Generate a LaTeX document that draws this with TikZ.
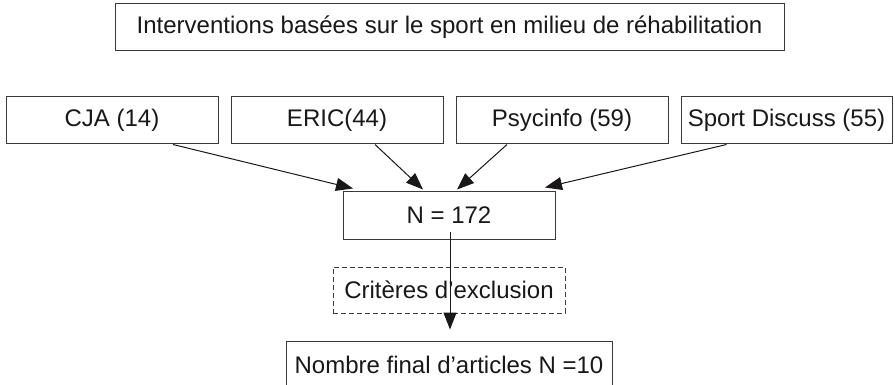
\documentclass[tikz,border=0pt]{standalone}
\usepackage{fontspec}
\setmainfont{Liberation Sans}
\usetikzlibrary{arrows.meta,calc}
\definecolor{boxline}{HTML}{3A3A3A}
\definecolor{txt}{HTML}{1A1718}
\tikzset{
  box/.style={draw=boxline, line width=1pt, rectangle, inner sep=0pt, minimum height=47pt, text=txt, font=\fontsize{24}{28}\selectfont},
  dbox/.style={box, dashed, dash pattern=on 5pt off 3pt},
  conn/.style={draw=txt, line width=1pt, -{Triangle[length=17pt,width=13pt]}}
}
\begin{document}
\begin{tikzpicture}[x=1pt,y=-1pt]
\useasboundingbox (0,0) rectangle (895,385);
\node[box, minimum width=669pt] (title) at (449.5,27.5) {Interventions basées sur le sport en milieu de réhabilitation};
\node[box, minimum width=212pt] (cja) at (112,120.5) {CJA (14)};
\node[box, minimum width=212pt] (eric) at (337,120.5) {ERIC(44)};
\node[box, minimum width=212pt] (psy) at (562,120.5) {Psycinfo (59)};
\node[box, minimum width=211pt] (sport) at (786.5,120.5) {Sport Discuss (55)};
\node[box, minimum width=212pt] (n) at (449,215.5) {N = 172};
\node[dbox, minimum width=232pt, minimum height=46pt] (crit) at (449,290) {Critères d’exclusion};
\node[box, minimum width=326pt] (final) at (449,364.5) {Nombre final d’articles N =10};
\draw[conn] ($(cja.south)+(61,0)$) -- ($(n.north)+(-96,-3)$);
\draw[conn] ($(eric.south)+(38,0)$) -- ($(n.north)+(-26,-2)$);
\draw[conn] ($(psy.south)+(-55,0)$) -- ($(n.north)+(8,-2)$);
\draw[conn] ($(sport.south)+(-60,0)$) -- ($(n.north)+(96,-4)$);
\draw[conn] ($(n.south)+(1,-8)$) -- ($(final.north)+(1,-11)$);
\end{tikzpicture}
\end{document}
